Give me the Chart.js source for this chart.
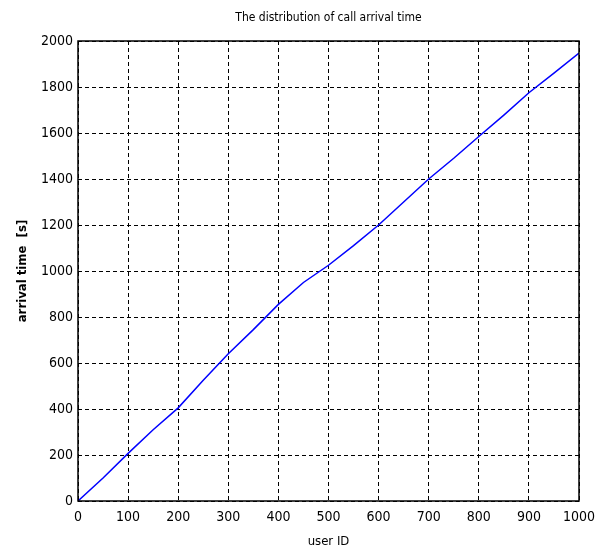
<!DOCTYPE html>
<html>
<head>
<meta charset="utf-8">
<script src="https://cdn.jsdelivr.net/npm/chart.js@4/dist/chart.umd.min.js"></script>
<style>
  html, body { margin: 0; padding: 0; background: #fff; }
  #wrap { width: 608px; height: 549px; }
</style>
</head>
<body>
<div id="wrap"><canvas id="c" width="608" height="549"></canvas></div>
<script>
// call arrival time per user
var userIds = [0, 50, 100, 150, 200, 250, 300, 350, 400, 450, 500,
  550, 600, 650, 700, 750, 800, 850, 900, 950, 1000];
var arrivalTimes = [0, 100, 207, 310, 405, 525, 640, 745, 855, 950, 1025,
  1110, 1200, 1300, 1400, 1490, 1585, 1678, 1775, 1860, 1948];
var xTicks = [0, 100, 200, 300, 400, 500, 600, 700, 800, 900, 1000];
var yTicks = [0, 200, 400, 600, 800, 1000, 1200, 1400, 1600, 1800, 2000];
var chartTitle = 'The distribution of call arrival time';

var FONT = "'DejaVu Sans Condensed', 'Liberation Sans Narrow', 'Liberation Sans', Arial, sans-serif";

var points = userIds.map(function (id, i) { return { x: id, y: arrivalTimes[i] }; });

// MATLAB-like box around the axes, title centred over the plot area
var frame = {
  id: 'frame',
  afterDraw: function (chart) {
    var a = chart.chartArea;
    var ctx = chart.ctx;
    ctx.save();
    ctx.strokeStyle = '#000';
    ctx.lineWidth = 1.5;
    ctx.strokeRect(a.left, a.top, a.right - a.left, a.bottom - a.top);
    ctx.fillStyle = '#000';
    ctx.font = '12px ' + FONT;
    ctx.textAlign = 'center';
    ctx.textBaseline = 'middle';
    ctx.fillText(chartTitle, (a.left + a.right) / 2, 18);
    ctx.restore();
  }
};

new Chart(document.getElementById('c'), {
  type: 'scatter',
  data: {
    datasets: [{
      data: points,
      showLine: true,
      borderColor: '#0000ff',
      borderWidth: 1.5,
      pointRadius: 0,
      tension: 0
    }]
  },
  options: {
    responsive: false,
    animation: false,
    layout: { padding: { left: 15, right: 29, top: 41, bottom: 0 } },
    plugins: {
      legend: { display: false },
      tooltip: { enabled: false }
    },
    scales: {
      x: {
        type: 'linear',
        min: 0,
        max: 1000,
        afterBuildTicks: function (s) { s.ticks = xTicks.map(function (v) { return { value: v }; }); },
        afterFit: function (s) { s.height = 48; },
        grid: { color: '#000', lineWidth: 1, drawTicks: false },
        border: { display: false, dash: [4, 3] },
        ticks: {
          color: '#000', padding: 8, font: { family: FONT, size: 14 },
          callback: function (v) { return String(v); }
        },
        title: {
          display: true,
          text: 'user ID',
          color: '#000',
          font: { family: FONT, size: 13 },
          padding: { top: 3, bottom: 0 }
        }
      },
      y: {
        min: 0,
        max: 2000,
        afterBuildTicks: function (s) { s.ticks = yTicks.map(function (v) { return { value: v }; }); },
        afterFit: function (s) { s.width = 63; },
        grid: { color: '#000', lineWidth: 1, drawTicks: false },
        border: { display: false, dash: [4, 3] },
        ticks: {
          color: '#000', padding: 5, font: { family: FONT, size: 14 },
          callback: function (v) { return String(v); }
        },
        title: {
          display: true,
          text: 'arrival time  [s]',
          color: '#000',
          font: { family: FONT, size: 13, weight: 'bold' },
          padding: { top: 0, bottom: 0 }
        }
      }
    }
  },
  plugins: [frame]
});
</script>
</body>
</html>
